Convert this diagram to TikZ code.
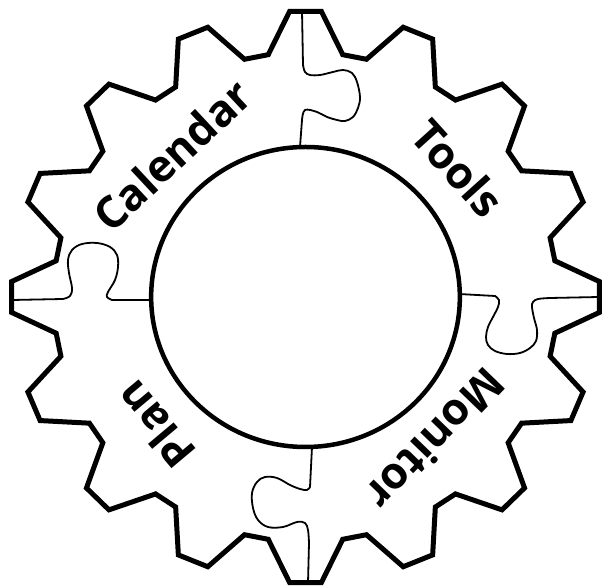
\documentclass[tikz,border=0pt]{standalone}
\usepackage{fontspec}
\setmainfont{Open Sans}
\tikzset{
  gearline/.style={line width=5pt, line join=miter},
  hubline/.style={line width=4.5pt},
  piece/.style={line width=1.8pt, line join=round},
  ringlabel/.style={font=\fontsize{44}{44}\selectfont\bfseries, inner sep=0pt}
}
\begin{document}
\begin{tikzpicture}[x=1pt, y=1pt]
        % page frame
        \fill[white] (0,0) rectangle (603,586);
        \useasboundingbox (0,0) rectangle (603,586);
        \coordinate (c) at (305.5,289);

        % draw puzzle seams
        \draw[piece] (300,439) -- plot[smooth, tension=0.6] coordinates {(302,466) (305,476) (317,474) (327,469) (337,466) (345,465) (353,469) (358,478) (360,489) (357,504) (352,513) (343,516) (333,514) (320,511) (310,511) (305,514) (303,521)} -- (302,575);
        \draw[piece] (12,286) -- plot[smooth, tension=0.6] coordinates {(63,287) (70,290) (72,298) (69,313) (68,326) (72,336) (82,342) (97,343) (110,339) (117,331) (118,319) (115,306) (108,294) (107,289) (112,286)} -- (151,286);
        \draw[piece] (459,292) -- plot[smooth, tension=0.6] coordinates {(495,290) (499,286) (498,279) (493,269) (488,259) (486,249) (488,241) (495,235) (507,232) (520,233) (530,238) (536,245) (537,256) (534,268) (532,279) (533,284) (538,287) (550,288)} -- (599,289);
        \draw[piece] (312,139) -- plot[smooth, tension=0.6] coordinates {(310,99) (307,96) (300,97) (290,101) (277,108) (265,109) (257,104) (252,93) (253,78) (258,66) (268,59) (283,59) (297,64) (305,63) (308,56) (309,43)} -- (308,3);

        % draw gear outline and hub
        \begin{scope}[shift={(c)}, xscale=1.029]
            \draw[gearline] (-8.5:245)
                \foreach \a in {0,22.5,...,337.5} {
                    -- (\a-8.5:245) -- (\a-3.1:286) -- (\a+3.1:286) -- (\a+8.5:245)
                } -- cycle;
            \draw[hubline] (0,0) circle (150);
        \end{scope}

        % labels
        \node[ringlabel, rotate=43] (calendar) at (172,431) {Calendar};
        \node[ringlabel, rotate=-48] (tools) at (458,418) {Tools};
        \node[ringlabel, rotate=-134] (monitor) at (436,146) {Monitor};
        \node[ringlabel, rotate=130] (plan) at (155,161) {Plan};
\end{tikzpicture}
\end{document}
